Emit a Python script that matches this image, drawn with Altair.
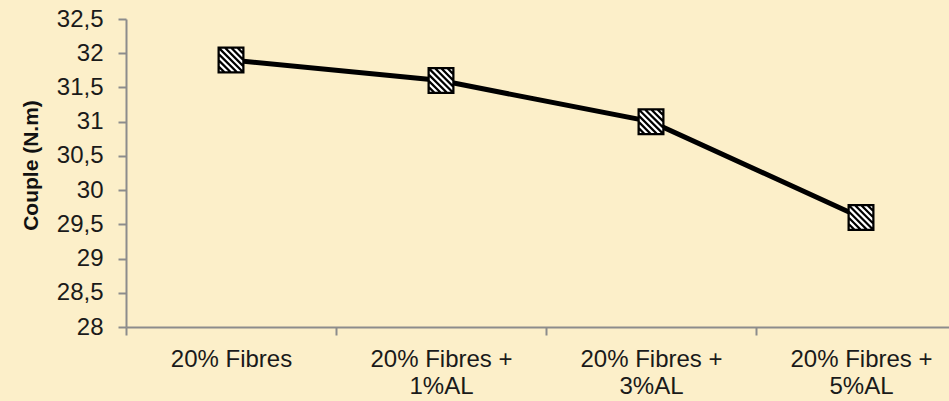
import altair as alt
import pandas as pd

# Torque for each formulation
categories = ["20% Fibres", "20% Fibres +\n1%AL", "20% Fibres +\n3%AL", "20% Fibres +\n5%AL"]
couple = [31.9, 31.6, 31.0, 29.6]
y_ticks = [28, 28.5, 29, 29.5, 30, 30.5, 31, 31.5, 32, 32.5]

df = pd.DataFrame({"formulation": categories, "couple": couple})

FONT = "Liberation Sans"
BG = "#FCEFC9"


def hatch_path(half=0.9, period=0.5, white=0.25):
    """Diagonal stripes (x - y = const) clipped to a square, as one SVG path."""
    def clip(poly, a, b, c):
        # keep points with a*x + b*y <= c
        out = []
        n = len(poly)
        for i in range(n):
            p, q = poly[i], poly[(i + 1) % n]
            fp = a * p[0] + b * p[1] - c
            fq = a * q[0] + b * q[1] - c
            if fp <= 0:
                out.append(p)
            if (fp < 0 < fq) or (fq < 0 < fp):
                t = fp / (fp - fq)
                out.append((p[0] + t * (q[0] - p[0]), p[1] + t * (q[1] - p[1])))
        return out

    square = [(-half, -half), (half, -half), (half, half), (-half, half)]
    parts = []
    c = -2.0 + (period - white) / 2
    while c < 2.0:
        poly = clip(square, 1, -1, c + white)      # x - y <= c2
        poly = clip(poly, -1, 1, -c)               # x - y >= c1
        if len(poly) >= 3:
            pts = " L".join(f"{x:.3f},{y:.3f}" for x, y in poly)
            parts.append(f"M{pts} Z")
        c += period
    return " ".join(parts)


x_enc = alt.X(
    "formulation:N",
    sort=categories,
    scale=alt.Scale(type="band", range=[0, 840], paddingInner=0, paddingOuter=0),
    axis=alt.Axis(
        title=None,
        labelAngle=0,
        labelExpr="split(datum.label, '\\n')",
        labelFont=FONT,
        labelFontSize=24,
        labelColor="#1a1a1a",
        labelLineHeight=27,
        labelPadding=12,
        labelBaseline="top",
        tickBand="extent",
        tickSize=8,
        tickColor="#8c8c8c",
        tickWidth=2,
        domainColor="#8c8c8c",
        domainWidth=2,
        grid=False,
    ),
)

y_enc = alt.Y(
    "couple:Q",
    scale=alt.Scale(domain=[28, 32.5], nice=False, zero=False),
    axis=alt.Axis(
        title="Couple (N.m)",
        values=y_ticks,
        format=".1~f",
        labelExpr="replace(datum.label, '.', ',')",
        labelFont=FONT,
        labelFontSize=24,
        labelColor="#1a1a1a",
        labelPadding=15,
        tickSize=8,
        tickColor="#8c8c8c",
        tickWidth=2,
        domainColor="#8c8c8c",
        domainWidth=2,
        grid=False,
        titleFont=FONT,
        titleFontSize=21,
        titleFontWeight="bold",
        titleColor="#111111",
        titleAngle=-90,
        titleX=-89,
        titleY=146,
        titleBaseline="alphabetic",
        titleAlign="center",
    ),
)

base = alt.Chart(df).encode(x=x_enc, y=y_enc)

line = base.mark_line(color="black", strokeWidth=5)
squares = base.mark_point(
    shape="square", size=625, filled=True, fill="black", stroke="black", strokeWidth=2, opacity=1
)
stripes = base.mark_point(
    shape=hatch_path(), size=625, filled=True, fill="white", strokeWidth=0, opacity=1
)

chart = (
    alt.layer(line, squares, stripes)
    .properties(
        width=823,
        height=308,
        autosize=alt.AutoSizeParams(type="none"),
        padding={"left": 126, "top": 19, "right": 0, "bottom": 74},
        background=BG,
    )
    .configure_view(stroke=None)
)

chart.save("out.html", embed_options={"renderer": "svg", "actions": False})
